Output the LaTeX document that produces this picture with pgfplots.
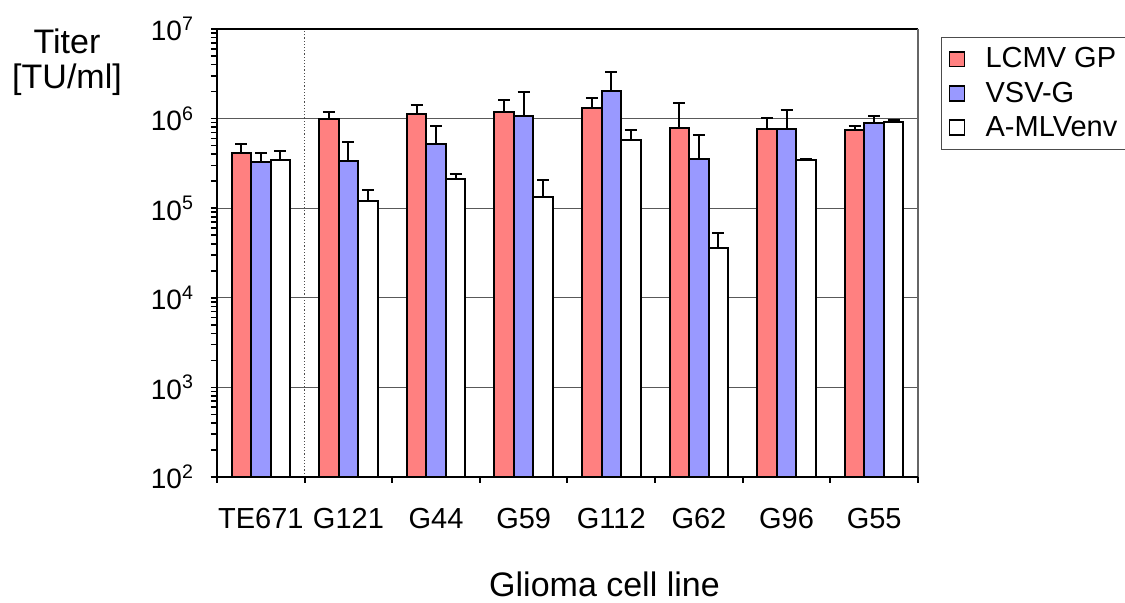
\documentclass[border=0pt]{standalone}
\usepackage{fontspec}
\setmainfont{Liberation Sans}
\usepackage{pgfplots}
\usepackage{pgfplotstable}
\pgfplotsset{compat=1.18}
\definecolor{lcmv}{RGB}{255,128,128}
\definecolor{vsv}{RGB}{153,153,255}

\pgfplotstableread{
x y e
0 4.16e5 1.09e5
1 1.00e6 1.9e5
2 1.12e6 3.1e5
3 1.18e6 4.3e5
4 1.31e6 3.8e5
5 7.87e5 7.03e5
6 7.60e5 2.6e5
7 7.41e5 9.4e4
}\lcmvdata
\pgfplotstableread{
x y e
0 3.27e5 8.3e4
1 3.36e5 2.16e5
2 5.25e5 3.03e5
3 1.08e6 9.1e5
4 2.04e6 1.29e6
5 3.56e5 3.06e5
6 7.60e5 4.9e5
7 9.02e5 1.68e5
}\vsvdata
\pgfplotstableread{
x y e
0 3.44e5 8.7e4
1 1.19e5 4.1e4
2 2.11e5 3.1e4
3 1.33e5 7.3e4
4 5.82e5 1.65e5
5 3.60e4 1.75e4
6 3.44e5 1.0e4
7 9.25e5 5.0e4
}\amlvdata

\begin{document}
\begin{tikzpicture}
\path[use as bounding box] (-108.5pt,-63pt) rectangle (454pt,238.5pt);
\begin{axis}[
  at={(0,0)}, anchor=south west,
  scale only axis, width=350.5pt, height=224pt,
  ymode=log, ymin=1e2, ymax=1e7,
  xmin=-0.5, xmax=7.5,
  ybar=0pt, bar width=9.75pt,
  axis x line*=bottom, axis y line*=left,
  axis line style={line width=1pt, black},
  tick align=outside,
  xtick={0,...,7},
  xticklabels={TE671,G121,G44,G59,G112,G62,G96,G55},
  major x tick style={draw=none},
  minor xtick={-0.5,0.5,...,7.5},
  minor x tick style={line width=1pt, black},
  major tick length=3pt, minor tick length=3pt,
  y tick style={line width=0.8pt, black},
  ytick={1e2,1e3,1e4,1e5,1e6,1e7},
  yticklabels={10\textsuperscript{2},10\textsuperscript{3},10\textsuperscript{4},10\textsuperscript{5},10\textsuperscript{6},10\textsuperscript{7}},
  yticklabel style={font=\fontsize{14}{16}\selectfont, xshift=-5pt},
  xticklabel style={font=\fontsize{14.5}{16}\selectfont, yshift=-9pt},
  ymajorgrids, major grid style={black!65, line width=0.5pt},
  legend style={at={(1.033,0.982)}, anchor=north west, draw=black!70, line width=0.5pt,
    font=\fontsize{14.5}{16}\selectfont, row sep=1.5pt, inner sep=3pt},
  legend cell align=left,
  mybar/.style={draw=black, line width=1pt,
    legend image code/.code={\draw[##1, line width=0.8pt] (1pt,-3.7pt) rectangle (8.5pt,3.7pt); \path[draw=none, fill=none] (0pt,0pt) -- (17pt,0pt);},
    error bars/.cd, y dir=plus, y explicit,
    error bar style={line width=1pt, black},
    error mark options={rotate=90, mark size=3pt, line width=1pt, black}},
]
\addplot[fill=lcmv, mybar] table[x=x, y=y, y error=e]{\lcmvdata};
\addlegendentry{LCMV GP}
\addplot[fill=vsv, mybar] table[x=x, y=y, y error=e]{\vsvdata};
\addlegendentry{VSV-G}
\addplot[fill=white, mybar] table[x=x, y=y, y error=e]{\amlvdata};
\addlegendentry{A-MLVenv}
\draw[black!70, densely dotted, line width=0.6pt] (axis cs:0.5,1e2) -- (axis cs:0.5,1e7);
\end{axis}
\draw[black, line width=0.8pt] (0pt,224pt) -- (350.5pt,224pt);
\draw[black!60, line width=1pt] (350.5pt,0pt) -- (350.5pt,224pt);
\draw[black, line width=1pt] (0pt,224pt) -- (0pt,0pt) -- (350.5pt,0pt);
\node[align=center, font=\fontsize{17}{17.5}\selectfont] at (-75pt,207.5pt) {Titer\\{}[TU/ml]};
\node[font=\fontsize{17}{19}\selectfont] at (193.75pt,-53.5pt) {Glioma cell line};
\end{tikzpicture}
\end{document}
